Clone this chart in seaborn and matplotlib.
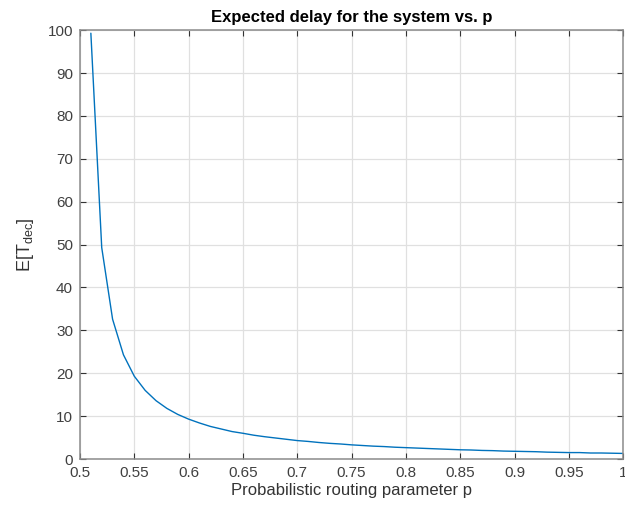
import numpy as np
import pandas as pd
import matplotlib
matplotlib.use("Agg")
import matplotlib.pyplot as plt
import seaborn as sns

# routing parameter p and expected delay
p = [0.51, 0.52, 0.53, 0.54, 0.55, 0.56, 0.57, 0.58, 0.59, 0.60,
     0.61, 0.62, 0.63, 0.64, 0.65, 0.66, 0.67, 0.68, 0.69, 0.70,
     0.71, 0.72, 0.73, 0.74, 0.75, 0.76, 0.77, 0.78, 0.79, 0.80,
     0.81, 0.82, 0.83, 0.84, 0.85, 0.86, 0.87, 0.88, 0.89, 0.90,
     0.91, 0.92, 0.93, 0.94, 0.95, 0.96, 0.97, 0.98, 0.99, 1.00]
delay = [99.3, 49.3, 32.6, 24.3, 19.3, 16.0, 13.6, 11.8, 10.4, 9.3,
         8.4, 7.6, 7.0, 6.4, 6.0, 5.55, 5.2, 4.9, 4.6, 4.3,
         4.1, 3.85, 3.65, 3.5, 3.3, 3.15, 3.0, 2.9, 2.75, 2.65,
         2.55, 2.45, 2.35, 2.25, 2.15, 2.1, 2.0, 1.95, 1.85, 1.8,
         1.75, 1.7, 1.6, 1.55, 1.5, 1.5, 1.4, 1.4, 1.35, 1.3]
xticks = [0.5, 0.55, 0.6, 0.65, 0.7, 0.75, 0.8, 0.85, 0.9, 0.95, 1]
xticklabels = ['0.5', '0.55', '0.6', '0.65', '0.7', '0.75', '0.8', '0.85', '0.9', '0.95', '1']
yticks = list(range(0, 101, 10))

df = pd.DataFrame({'p': p, 'delay': delay})

sns.set_style('white')
plt.rcParams['font.family'] = ['Liberation Sans', 'DejaVu Sans']
plt.rcParams['mathtext.fontset'] = 'custom'
plt.rcParams['mathtext.rm'] = 'Liberation Sans'

fig = plt.figure(figsize=(6.25, 5.12), dpi=100)
ax = fig.add_axes([0.128, 0.1035, 0.869, 0.8375])
sns.lineplot(data=df, x='p', y='delay', ax=ax, color='#0072BD', linewidth=1.0)

ax.set_xlim(0.5, 1)
ax.set_ylim(0, 100)
ax.set_xticks(xticks)
ax.set_xticklabels(xticklabels)
ax.set_yticks(yticks)
ax.grid(True, color='#E0E0E0', linewidth=0.9)
ax.tick_params(direction='in', length=4, color='#333333', labelcolor='#404040',
               labelsize=11, top=True, right=True, bottom=True, left=True, pad=5)
for s in ax.spines.values():
    s.set_color('#8C8C8C')
    s.set_linewidth(1.1)

ax.set_title('Expected delay for the system vs. p', fontsize=12, fontweight='bold', pad=6, color='black')
ax.set_xlabel('Probabilistic routing parameter p', fontsize=12, color='#333333', labelpad=2)
ax.set_ylabel(r'$\mathregular{E[T_{dec}]}$', fontsize=13, color='#333333', labelpad=8)

fig.savefig('out.png', dpi=100)
